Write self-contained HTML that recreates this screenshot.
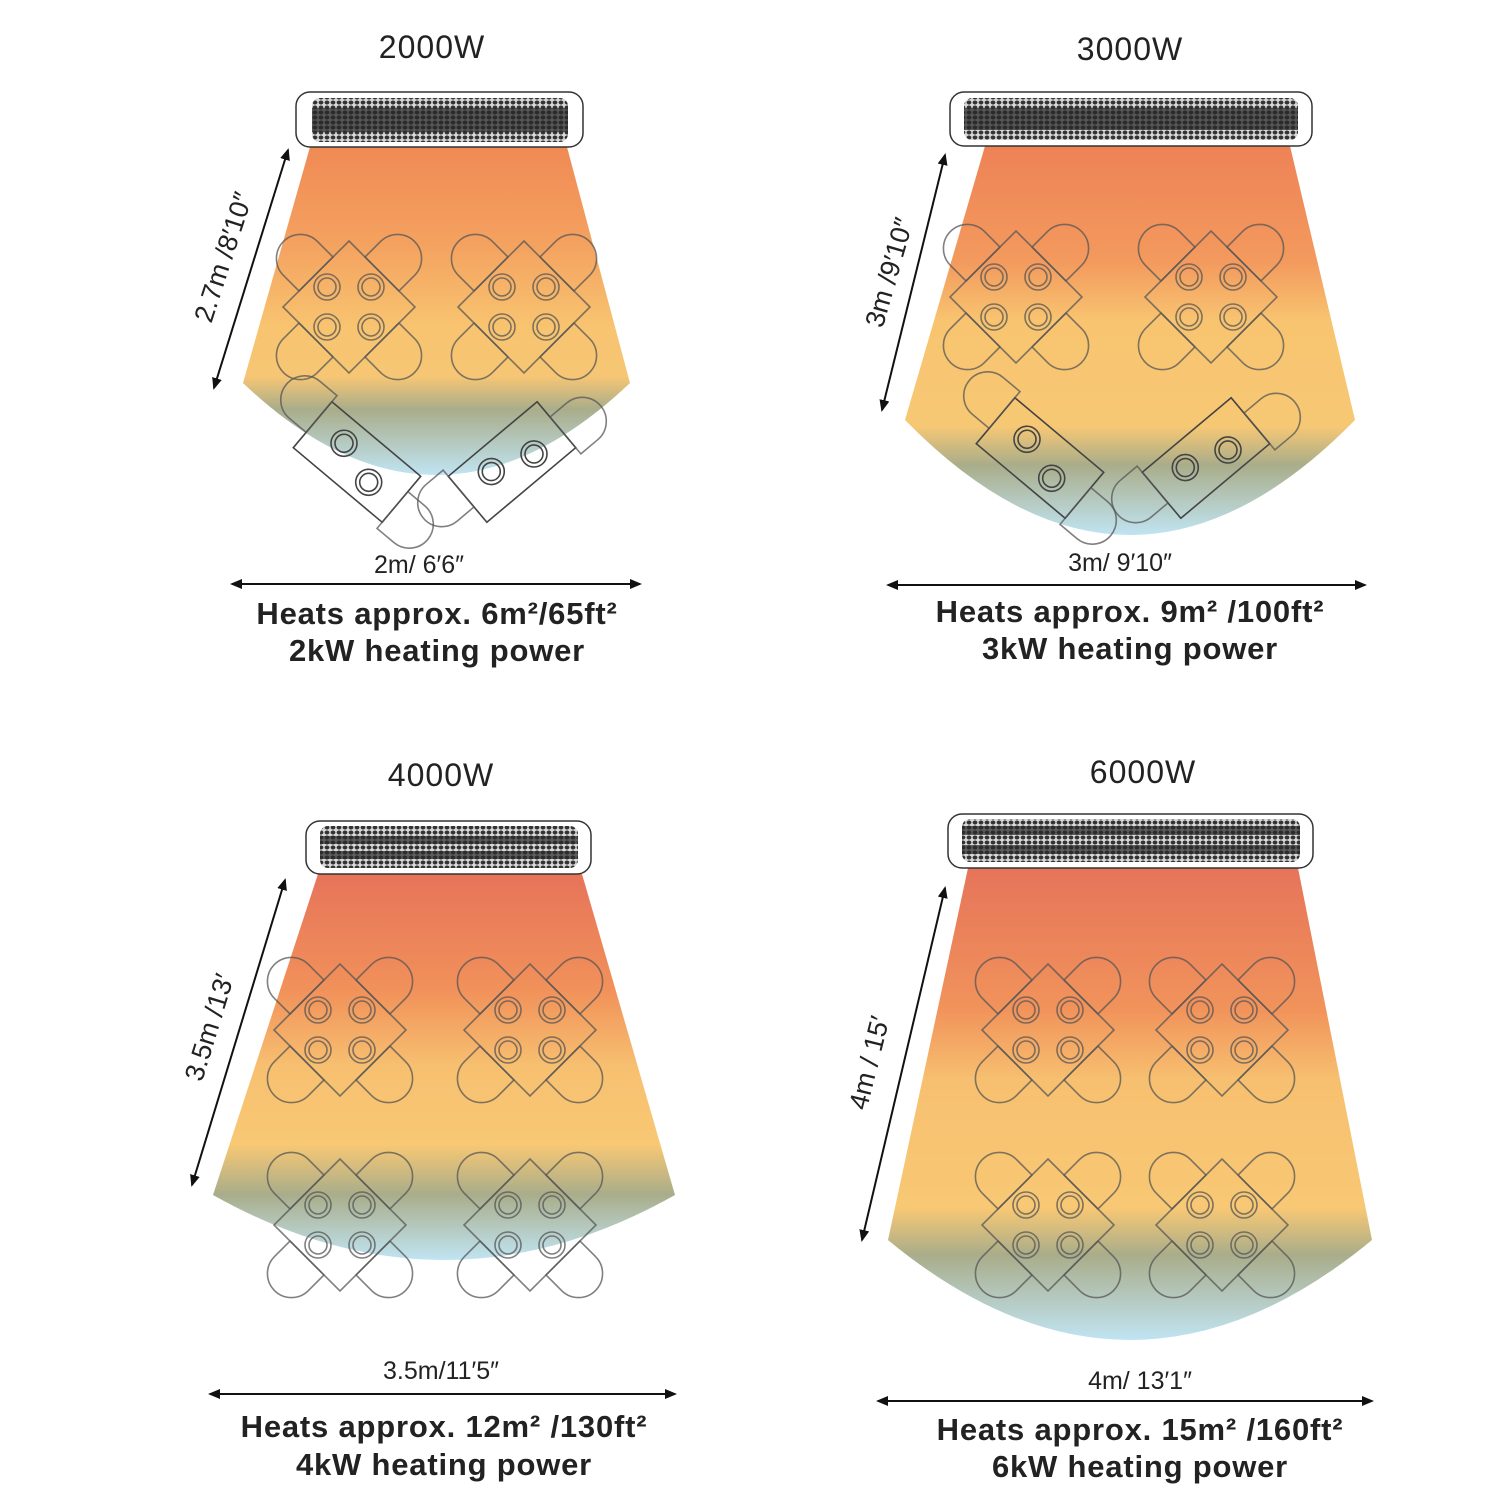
<!DOCTYPE html>
<html><head><meta charset="utf-8"><style>
html,body{margin:0;padding:0;background:#fff}
svg{display:block}
text{font-family:"Liberation Sans",sans-serif;fill:#222}
.t{font-size:32px;text-anchor:middle;letter-spacing:1px}
.d{font-size:25px;text-anchor:middle}
.b{font-size:31px;font-weight:bold;text-anchor:middle;letter-spacing:0.8px}
.s{font-size:27px;text-anchor:middle}
</style></head><body>
<svg width="1499" height="1499" viewBox="0 0 1499 1499" xmlns="http://www.w3.org/2000/svg">
<defs>
<pattern id="mesh" width="6" height="5" patternUnits="userSpaceOnUse">
<rect width="6" height="5" fill="#d8d8d8"/><ellipse cx="3" cy="2.5" rx="2.4" ry="2" fill="#333"/></pattern>
<marker id="ah" markerWidth="12" markerHeight="10" refX="10" refY="5" orient="auto-start-reverse" markerUnits="userSpaceOnUse"><path d="M0,0 L12,5 L0,10 Z" fill="#111"/></marker>
<linearGradient id="g1" gradientUnits="userSpaceOnUse" x1="0" y1="147" x2="0" y2="475">
<stop offset="0" stop-color="#f08a55"/><stop offset="0.3" stop-color="#f4a260"/><stop offset="0.55" stop-color="#f8c470"/><stop offset="0.7" stop-color="#f6c674"/><stop offset="0.8" stop-color="#a9ad8a"/><stop offset="1" stop-color="#c0e4f2"/></linearGradient>
<linearGradient id="g2" gradientUnits="userSpaceOnUse" x1="0" y1="146" x2="0" y2="535">
<stop offset="0" stop-color="#ee8256"/><stop offset="0.3" stop-color="#f39a5e"/><stop offset="0.45" stop-color="#f8c470"/><stop offset="0.72" stop-color="#f7c874"/><stop offset="0.82" stop-color="#a9ad8a"/><stop offset="1" stop-color="#c0e4f2"/></linearGradient>
<linearGradient id="g3" gradientUnits="userSpaceOnUse" x1="0" y1="874" x2="0" y2="1260">
<stop offset="0" stop-color="#e6745a"/><stop offset="0.3" stop-color="#f1915a"/><stop offset="0.5" stop-color="#f7c070"/><stop offset="0.7" stop-color="#f8c874"/><stop offset="0.83" stop-color="#a9ad8a"/><stop offset="1" stop-color="#c0e4f2"/></linearGradient>
<linearGradient id="g4" gradientUnits="userSpaceOnUse" x1="0" y1="868" x2="0" y2="1340">
<stop offset="0" stop-color="#e6745a"/><stop offset="0.3" stop-color="#f1935b"/><stop offset="0.45" stop-color="#f7c070"/><stop offset="0.72" stop-color="#f8c874"/><stop offset="0.82" stop-color="#a9ad8a"/><stop offset="1" stop-color="#c0e4f2"/></linearGradient>
<g id="ch"><path d="M0,-24 L-22,-24 A24,24 0 0 0 -22,24 L0,24 Z" fill="none" stroke="#555" stroke-width="1.6" stroke-opacity="0.75"/></g>
<g id="t4" fill="none" stroke="#555" stroke-width="1.6" stroke-opacity="0.75">
<polygon points="0,-66 66,0 0,66 -66,0"/>
<circle cx="-22" cy="-20" r="13"/><circle cx="-22" cy="-20" r="9"/>
<circle cx="22" cy="-20" r="13"/><circle cx="22" cy="-20" r="9"/>
<circle cx="-22" cy="20" r="13"/><circle cx="-22" cy="20" r="9"/>
<circle cx="22" cy="20" r="13"/><circle cx="22" cy="20" r="9"/>
<use href="#ch" transform="translate(-33,-33) rotate(45)"/>
<use href="#ch" transform="translate(33,-33) rotate(135)"/>
<use href="#ch" transform="translate(33,33) rotate(225)"/>
<use href="#ch" transform="translate(-33,33) rotate(315)"/>
</g>
<g id="t2" fill="none" stroke="#444" stroke-width="1.6">
<rect x="-58" y="-30" width="116" height="60"/>
<circle cx="-22" cy="-6" r="13"/><circle cx="-22" cy="-6" r="9"/>
<circle cx="22" cy="8" r="13"/><circle cx="22" cy="8" r="9"/>
<use href="#ch" transform="translate(-58,-14) rotate(0)"/>
<use href="#ch" transform="translate(58,14) rotate(180)"/>
</g>
</defs>

<!-- Panel 1 -->
<text class="t" x="432" y="58">2000W</text>
<path d="M310,147 L567,147 L630,383 Q436,567 243,383 Z" fill="url(#g1)"/>
<use href="#t4" x="349" y="307"/><use href="#t4" x="524" y="307"/>
<use href="#t2" transform="translate(357,462) rotate(40)"/>
<use href="#t2" transform="translate(512,462) rotate(-40)"/>
<rect x="296" y="92" width="287" height="55" rx="14" fill="#fff" stroke="#333" stroke-width="1.5"/>
<rect x="312" y="98" width="256" height="44" rx="8" fill="url(#mesh)"/>
<rect x="312" y="108" width="256" height="24" fill="#2a2a2a" opacity="0.75"/>
<line x1="288" y1="150" x2="214" y2="388" stroke="#111" stroke-width="2" marker-start="url(#ah)" marker-end="url(#ah)"/>
<text class="s" transform="translate(232,260) rotate(-72)">2.7m /8′10″</text>
<line x1="232" y1="584" x2="640" y2="584" stroke="#111" stroke-width="2" marker-start="url(#ah)" marker-end="url(#ah)"/>
<text class="d" x="419" y="573">2m/ 6′6″</text>
<text class="b" x="437" y="624">Heats approx. 6m²/65ft²</text>
<text class="b" x="437" y="661">2kW heating power</text>

<!-- Panel 2 -->
<text class="t" x="1130" y="60">3000W</text>
<path d="M985,146 L1290,146 L1355,420 Q1130,650 905,420 Z" fill="url(#g2)"/>
<use href="#t4" x="1016" y="297"/><use href="#t4" x="1211" y="297"/>
<use href="#t2" transform="translate(1040,458) rotate(40)"/>
<use href="#t2" transform="translate(1206,458) rotate(-40)"/>
<rect x="950" y="92" width="362" height="54" rx="14" fill="#fff" stroke="#333" stroke-width="1.5"/>
<rect x="964" y="98" width="334" height="42" rx="8" fill="url(#mesh)"/>
<rect x="964" y="108" width="334" height="22" fill="#2a2a2a" opacity="0.75"/>
<line x1="945" y1="155" x2="882" y2="410" stroke="#111" stroke-width="2" marker-start="url(#ah)" marker-end="url(#ah)"/>
<text class="s" transform="translate(898,275) rotate(-74)">3m /9′10″</text>
<line x1="888" y1="585" x2="1365" y2="585" stroke="#111" stroke-width="2" marker-start="url(#ah)" marker-end="url(#ah)"/>
<text class="d" x="1120" y="571">3m/ 9′10″</text>
<text class="b" x="1130" y="622">Heats approx. 9m² /100ft²</text>
<text class="b" x="1130" y="659">3kW heating power</text>

<!-- Panel 3 -->
<text class="t" x="441" y="786">4000W</text>
<path d="M318,874 L582,874 L675,1195 Q444,1325 213,1195 Z" fill="url(#g3)"/>
<use href="#t4" x="340" y="1030"/><use href="#t4" x="530" y="1030"/>
<use href="#t4" x="340" y="1225"/><use href="#t4" x="530" y="1225"/>
<rect x="306" y="821" width="285" height="53" rx="14" fill="#fff" stroke="#333" stroke-width="1.5"/>
<rect x="320" y="826" width="258" height="42" rx="8" fill="url(#mesh)"/>
<rect x="320" y="836" width="258" height="8" fill="#2a2a2a" opacity="0.7"/><rect x="320" y="851" width="258" height="8" fill="#2a2a2a" opacity="0.7"/>
<line x1="285" y1="880" x2="192" y2="1185" stroke="#111" stroke-width="2" marker-start="url(#ah)" marker-end="url(#ah)"/>
<text class="s" transform="translate(218,1030) rotate(-73)">3.5m /13′</text>
<line x1="210" y1="1394" x2="675" y2="1394" stroke="#111" stroke-width="2" marker-start="url(#ah)" marker-end="url(#ah)"/>
<text class="d" x="441" y="1379">3.5m/11′5″</text>
<text class="b" x="444" y="1437">Heats approx. 12m² /130ft²</text>
<text class="b" x="444" y="1475">4kW  heating power</text>

<!-- Panel 4 -->
<text class="t" x="1143" y="783">6000W</text>
<path d="M968,868 L1298,868 L1372,1240 Q1130,1440 888,1240 Z" fill="url(#g4)"/>
<use href="#t4" x="1048" y="1030"/><use href="#t4" x="1222" y="1030"/>
<use href="#t4" x="1048" y="1225"/><use href="#t4" x="1222" y="1225"/>
<rect x="948" y="814" width="365" height="54" rx="14" fill="#fff" stroke="#333" stroke-width="1.5"/>
<rect x="962" y="819" width="338" height="43" rx="8" fill="url(#mesh)"/>
<rect x="962" y="826" width="338" height="9" fill="#2a2a2a" opacity="0.7"/><rect x="962" y="845" width="338" height="9" fill="#2a2a2a" opacity="0.7"/>
<line x1="945" y1="888" x2="862" y2="1240" stroke="#111" stroke-width="2" marker-start="url(#ah)" marker-end="url(#ah)"/>
<text class="s" transform="translate(878,1065) rotate(-76)">4m / 15′</text>
<line x1="878" y1="1401" x2="1372" y2="1401" stroke="#111" stroke-width="2" marker-start="url(#ah)" marker-end="url(#ah)"/>
<text class="d" x="1140" y="1389">4m/ 13′1″</text>
<text class="b" x="1140" y="1440">Heats approx. 15m²  /160ft²</text>
<text class="b" x="1140" y="1477">6kW heating power</text>
</svg>
</body></html>
